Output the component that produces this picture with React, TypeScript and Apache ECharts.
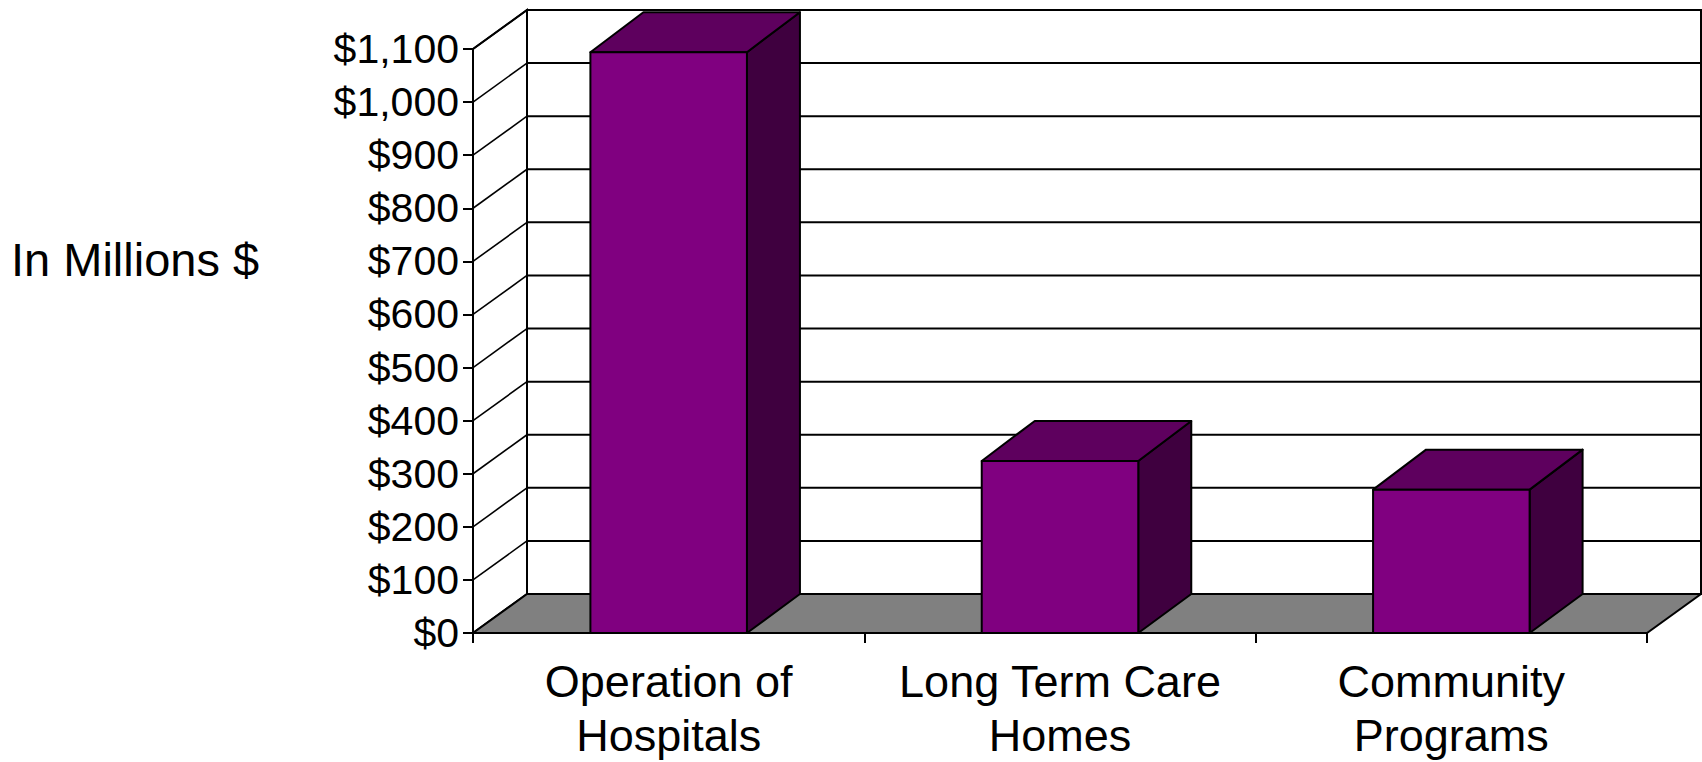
import React, { useEffect, useRef } from "react";
import * as echarts from "echarts";

const categories = ["Operation of\nHospitals", "Long Term Care\nHomes", "Community\nPrograms"];
const values = [1094, 324, 270];
const yTicks = [0, 100, 200, 300, 400, 500, 600, 700, 800, 900, 1000, 1100];
const yMax = 1100;
const axisTitle = "In Millions $";

const DX = 54;
const DY = -39;
const BAR_DX = 53;
const BAR_DY = -40;
const FONT = '"Liberation Sans", Arial, Helvetica, sans-serif';
const LINE = "#000000";

export default function App() {
  const ref = useRef<HTMLDivElement>(null);

  useEffect(() => {
    const chart = echarts.init(ref.current!, null, { renderer: "svg" });

    const frameRender = (params: any, api: any) => {
      const cs = params.coordSys;
      const x0 = cs.x;
      const x1 = cs.x + cs.width;
      const y0 = api.coord([0, 0])[1];
      const yTop = api.coord([0, yMax])[1];
      const children: any[] = [];
      children.push({
        type: "polygon",
        shape: { points: [[x0 + DX, yTop + DY], [x1 + DX, yTop + DY], [x1 + DX, y0 + DY], [x0 + DX, y0 + DY]] },
        style: { fill: "#ffffff", stroke: LINE, lineWidth: 2 },
      });
      children.push({
        type: "polygon",
        shape: { points: [[x0, y0], [x0, yTop], [x0 + DX, yTop + DY], [x0 + DX, y0 + DY]] },
        style: { fill: "#ffffff", stroke: LINE, lineWidth: 2 },
      });
      yTicks.forEach((v) => {
        if (v === 0) return;
        const y = api.coord([0, v])[1];
        children.push({
          type: "line",
          shape: { x1: x0, y1: y, x2: x0 + DX, y2: y + DY },
          style: { stroke: LINE, lineWidth: 1.6 },
        });
        children.push({
          type: "line",
          shape: { x1: x0 + DX, y1: y + DY, x2: x1 + DX, y2: y + DY },
          style: { stroke: LINE, lineWidth: 2 },
        });
      });
      children.push({
        type: "polygon",
        shape: { points: [[x0, y0], [x1, y0], [x1 + DX, y0 + DY], [x0 + DX, y0 + DY]] },
        style: { fill: "#808080", stroke: LINE, lineWidth: 2 },
      });
      return { type: "group", children };
    };

    const barRender = (params: any, api: any) => {
      const idx = api.value(0);
      const val = api.value(1);
      const [cx, yt] = api.coord([idx, val]);
      const yb = api.coord([idx, 0])[1];
      const w = api.size([1, 0])[0] * 0.4;
      const l = cx - w / 2;
      const r = cx + w / 2;
      const stroke = { stroke: LINE, lineWidth: 2, lineJoin: "round" };
      return {
        type: "group",
        children: [
          {
            type: "polygon",
            shape: { points: [[r, yt], [r + BAR_DX, yt + BAR_DY], [r + BAR_DX, yb + DY], [r, yb]] },
            style: { fill: "#3f003f", ...stroke },
          },
          {
            type: "polygon",
            shape: { points: [[l, yt], [l + BAR_DX, yt + BAR_DY], [r + BAR_DX, yt + BAR_DY], [r, yt]] },
            style: { fill: "#5e005e", ...stroke },
          },
          {
            type: "rect",
            shape: { x: l, y: yt, width: w, height: yb - yt },
            style: { fill: "#800080", ...stroke },
          },
        ],
      };
    };

    chart.setOption({
      animation: false,
      backgroundColor: "#ffffff",
      grid: { left: 473, right: 55, top: 49, bottom: 128, containLabel: false },
      graphic: [
        {
          type: "text",
          x: 11,
          y: 259,
          style: {
            text: axisTitle,
            fontSize: 47,
            fontFamily: FONT,
            fill: "#000",
            verticalAlign: "middle",
            align: "left",
          },
        },
      ],
      xAxis: {
        type: "category",
        data: categories,
        boundaryGap: true,
        axisLine: { show: true, lineStyle: { color: LINE, width: 2 } },
        axisTick: { show: true, interval: 0, length: 10, lineStyle: { color: LINE, width: 2 } },
        axisLabel: {
          interval: 0,
          margin: 21,
          fontSize: 45,
          lineHeight: 54,
          color: "#000",
          fontFamily: FONT,
        },
        splitLine: { show: false },
      },
      yAxis: {
        type: "value",
        min: 0,
        max: yMax,
        interval: 100,
        axisLine: { show: true, lineStyle: { color: LINE, width: 2 } },
        axisTick: { show: true, length: 10, lineStyle: { color: LINE, width: 2 } },
        axisLabel: {
          margin: 14,
          fontSize: 41,
          color: "#000",
          fontFamily: FONT,
          formatter: (v: number) => "$" + v.toLocaleString("en-US"),
        },
        splitLine: { show: false },
      },
      series: [
        {
          type: "custom",
          renderItem: frameRender,
          data: [[0, 0]],
          encode: { x: 0, y: 1 },
          clip: false,
          silent: true,
          z: 1,
        },
        {
          type: "custom",
          renderItem: barRender,
          data: values.map((v, i) => [i, v]),
          encode: { x: 0, y: 1 },
          clip: false,
          z: 3,
        },
      ],
    });

    return () => chart.dispose();
  }, []);

  return (
    <div
      ref={ref}
      style={{ position: "fixed", left: 0, top: 0, width: 1702, height: 762 }}
    />
  );
}
